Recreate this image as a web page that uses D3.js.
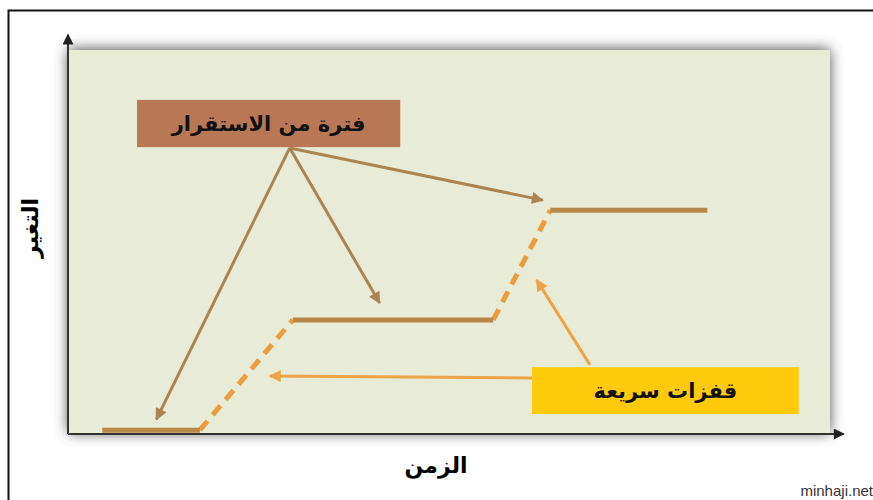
<!DOCTYPE html>
<html>

<head>
    <meta charset="UTF-8">
    <title>stasis</title>
    <style>
        body { margin: 0; background: #fff; }
        text { font-family: "DejaVu Sans", sans-serif; }
    </style>
</head>

<body>
    <script src="https://cdn.jsdelivr.net/npm/d3@7"></script>

    <svg id="chart" width="873" height="500"></svg>

    <script>
        // stable periods (time from -> to, level of change)
        const stableFrom = [4.5, 29.5, 63.3];
        const stableTo = [17.3, 55.8, 83.9];
        const stableLevel = [1, 29.7, 58.3];

        // labels
        const stableLabel = "فترة من الاستقرار";
        const jumpLabel = "قفزات سريعة";
        const xLabel = "الزمن";
        const yLabel = "التغير";

        // arrows from the labels (x1,y1 -> x2,y2)
        const stableArrows = [
            [29.1, 74.5, 11.6, 3.8],
            [29.1, 74.5, 40.9, 34.1],
            [29.1, 74.5, 62.3, 60.9]
        ];
        const jumpArrows = [
            [60.9, 14.6, 26.5, 15.1],
            [68.5, 18.0, 61.5, 40.1]
        ];

        const svg = d3.select("#chart");
        const width = +svg.attr("width"),
            height = +svg.attr("height");

        const x = d3.scaleLinear().domain([0, 100]).range([68, 830]);
        const y = d3.scaleLinear().domain([0, 100]).range([434, 50]);

        const defs = svg.append("defs");
        const sh = defs.append("filter").attr("id", "shadow")
            .attr("x", "-10%").attr("y", "-20%").attr("width", "120%").attr("height", "140%");
        sh.append("feDropShadow").attr("dx", 0).attr("dy", -1)
            .attr("stdDeviation", 7).attr("flood-color", "#4a4a4a").attr("flood-opacity", 0.95);

        // arrow heads
        const mk = function (id, color, w, h) {
            defs.append("marker").attr("id", id)
                .attr("viewBox", "0 0 10 10").attr("refX", 9).attr("refY", 5)
                .attr("markerWidth", w).attr("markerHeight", h)
                .attr("markerUnits", "userSpaceOnUse")
                .attr("orient", "auto")
                .append("path").attr("d", "M0,0L10,5L0,10z").attr("fill", color);
        }
        mk("headBrown", "#a98551", 15, 12);
        mk("headOrange", "#eea348", 15, 12);
        mk("headAxis", "#222", 12, 11);

        // outer frame
        svg.append("rect").attr("x", 8.5).attr("y", 10.5)
            .attr("width", width).attr("height", height)
            .attr("fill", "#fff").attr("stroke", "#111").attr("stroke-width", 2);

        // plot panel
        svg.append("rect")
            .attr("x", x(0)).attr("y", y(100))
            .attr("width", x(100) - x(0)).attr("height", y(0) - y(100))
            .attr("fill", "#e8ebd5")
            .attr("filter", "url(#shadow)");

        // axes (no ticks, just the lines with arrow heads)
        svg.append("line")
            .attr("x1", x(0)).attr("y1", y(0))
            .attr("x2", x(0)).attr("y2", y(104))
            .attr("stroke", "#333").attr("stroke-width", 2)
            .attr("marker-end", "url(#headAxis)");
        svg.append("line")
            .attr("x1", x(0)).attr("y1", y(0))
            .attr("x2", x(101.8)).attr("y2", y(0))
            .attr("stroke", "#333").attr("stroke-width", 2)
            .attr("marker-end", "url(#headAxis)");

        // dashed jumps
        for (let i = 0; i < stableFrom.length - 1; i++) {
            svg.append("line")
                .attr("x1", x(stableTo[i])).attr("y1", y(stableLevel[i]))
                .attr("x2", x(stableFrom[i + 1])).attr("y2", y(stableLevel[i + 1]))
                .attr("stroke", "#eb9c3e").attr("stroke-width", 5)
                .attr("stroke-dasharray", "12 8");
        }

        // stable periods
        svg.selectAll(".stable")
            .data(stableFrom)
            .join("line")
            .attr("class", "stable")
            .attr("x1", d => x(d))
            .attr("x2", (d, i) => x(stableTo[i]))
            .attr("y1", (d, i) => y(stableLevel[i]))
            .attr("y2", (d, i) => y(stableLevel[i]))
            .attr("stroke", "#b8874a").attr("stroke-width", 5);

        // brown label arrows
        svg.selectAll(".sa")
            .data(stableArrows)
            .join("line")
            .attr("class", "sa")
            .attr("x1", d => x(d[0])).attr("y1", d => y(d[1]))
            .attr("x2", d => x(d[2])).attr("y2", d => y(d[3]))
            .attr("stroke", "#a98551").attr("stroke-width", 3)
            .attr("marker-end", "url(#headBrown)");

        // orange label arrows
        svg.selectAll(".ja")
            .data(jumpArrows)
            .join("line")
            .attr("class", "ja")
            .attr("x1", d => x(d[0])).attr("y1", d => y(d[1]))
            .attr("x2", d => x(d[2])).attr("y2", d => y(d[3]))
            .attr("stroke", "#eea348").attr("stroke-width", 3)
            .attr("marker-end", "url(#headOrange)");

        // label boxes
        const box = function (x0, x1, y0, y1, fill, txt) {
            svg.append("rect")
                .attr("x", x(x0)).attr("y", y(y0))
                .attr("width", x(x1) - x(x0)).attr("height", y(y1) - y(y0))
                .attr("fill", fill);
            svg.append("text")
                .attr("x", (x(x0) + x(x1)) / 2).attr("y", (y(y0) + y(y1)) / 2)
                .attr("text-anchor", "middle").attr("dominant-baseline", "central")
                .attr("font-size", 21).attr("font-weight", "bold")
                .attr("fill", "#111")
                .text(txt);
        }
        box(9.06, 43.6, 87, 74.7, "#b97855", stableLabel);
        box(60.9, 95.9, 17.4, 5.2, "#ffca0c", jumpLabel);

        // axis titles
        svg.append("text")
            .attr("x", 436).attr("y", 473)
            .attr("text-anchor", "middle")
            .attr("font-size", 22).attr("font-weight", "bold")
            .text(xLabel);
        svg.append("text")
            .attr("transform", "translate(38,228) rotate(-90)")
            .attr("text-anchor", "middle")
            .attr("font-size", 22).attr("font-weight", "bold")
            .text(yLabel);

        // watermark
        svg.append("text")
            .attr("x", 873).attr("y", 496)
            .attr("text-anchor", "end")
            .style("font-family", "Liberation Sans, Arial, sans-serif")
            .attr("font-size", 15).attr("fill", "#333")
            .text("minhaji.net");
    </script>

</body>

</html>
